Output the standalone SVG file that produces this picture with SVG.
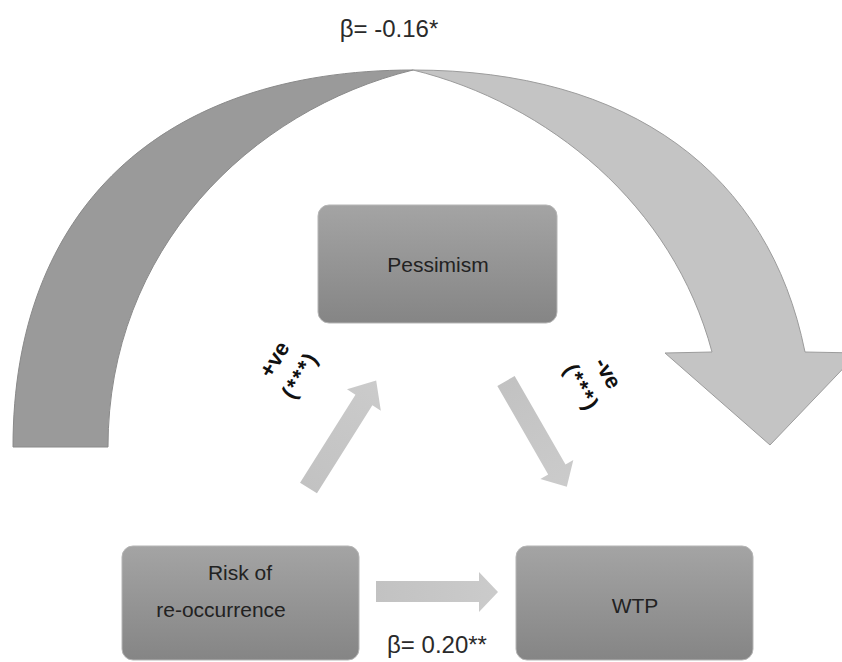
<svg xmlns="http://www.w3.org/2000/svg" width="842" height="662" viewBox="0 0 842 662">
<defs>
<linearGradient id="boxg" x1="0" y1="0" x2="0" y2="1">
<stop offset="0" stop-color="#a4a4a4"/>
<stop offset="1" stop-color="#858585"/>
</linearGradient>
<linearGradient id="arrg" x1="0" y1="0" x2="1" y2="0">
<stop offset="0" stop-color="#c2c2c2"/>
<stop offset="1" stop-color="#cbcbcb"/>
</linearGradient>
<style>
.box{fill:url(#boxg);stroke:#b5b5b5;stroke-width:1}
.lbl{font-family:"Liberation Sans",Arial,sans-serif;font-size:21px;fill:#222;text-anchor:middle}
.beta{font-family:"Liberation Sans",Arial,sans-serif;font-size:24px;fill:#2a2a2a;text-anchor:middle}
.sig{font-family:"Liberation Sans",Arial,sans-serif;font-size:22px;font-weight:bold;fill:#111;text-anchor:middle}
.arr{fill:url(#arrg);stroke:none}
</style>
</defs>
<rect width="842" height="662" fill="#fff"/>
<g id="connectors">
<path id="curve-back" d="M13,447 C13,210 160,70 413,70 C250,110 108,250 108,447 Z" fill="#9a9a9a" stroke="#8a8a8a" stroke-width="1"/>
<path id="curve-front" d="M413,70 C630,70 769,173 805,352 L858,353 L770,445 L665,353 L712,352 C673,205 548,103 413,70 Z" fill="#c4c4c4" stroke="#9c9c9c" stroke-width="1"/>
<g transform="translate(308.5,488) rotate(-57.8)"><path class="arr" d="M0,-10 L104,-10 L104,-20 L127,0 L104,20 L104,10 L0,10 Z"/></g>
<g transform="translate(506,381) rotate(60.1)"><path class="arr" d="M0,-10 L102,-10 L102,-19 L122,0 L102,19 L102,10 L0,10 Z"/></g>
<path class="arr" d="M376,581 L479,581 L479,572 L498,592 L479,612 L479,602 L376,602 Z"/>
</g>
<g id="node-pessimism">
<rect class="box" x="318" y="205" width="239" height="118" rx="11"/>
<text class="lbl" x="438" y="272">Pessimism</text>
</g>
<g id="node-risk">
<rect class="box" x="122" y="546" width="237" height="114" rx="11"/>
<text class="lbl" x="240" y="580">Risk of</text>
<text class="lbl" x="221" y="617">re-occurrence</text>
</g>
<g id="node-wtp">
<rect class="box" x="516" y="546" width="237" height="114" rx="11"/>
<text class="lbl" x="635" y="613">WTP</text>
</g>
<g id="labels">
<text class="beta" x="389" y="37">β= -0.16*</text>
<text class="beta" x="437" y="653">β= 0.20**</text>
<g transform="translate(287.5,367.5) rotate(-59)">
<text class="sig" x="0" y="-8">+ve</text>
<text class="sig" x="0" y="22" letter-spacing="2">(***)</text>
</g>
<g transform="translate(593.5,381) rotate(61)">
<text class="sig" x="0" y="-9">-ve</text>
<text class="sig" x="0" y="21" letter-spacing="2">(***)</text>
</g>
</g>
</svg>
